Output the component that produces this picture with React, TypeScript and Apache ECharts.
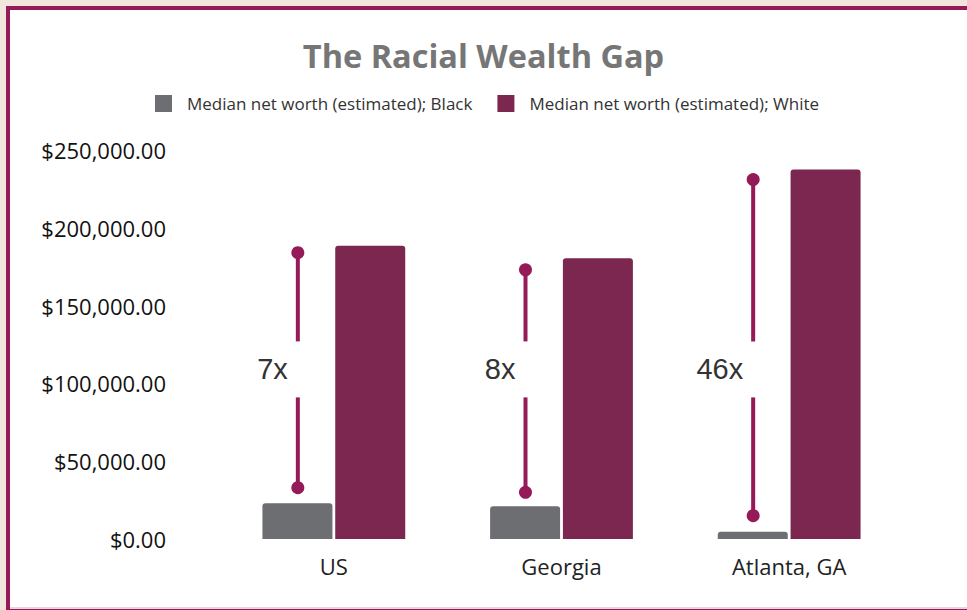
import React, { useEffect, useRef } from "react";
import * as echarts from "echarts";

const categories = ["US", "Georgia", "Atlanta, GA"];
const blackWorth = [23000, 21000, 4600];
const whiteWorth = [188500, 180500, 237500];
const gapLow = [33000, 30000, 15000];
const gapHigh = [184000, 173000, 231000];
const gapLabels = ["7x", "8x", "46x"];
const yTicks = [0, 50000, 100000, 150000, 200000, 250000];
const seriesNames = ["Median net worth (estimated); Black", "Median net worth (estimated); White"];

const LABEL_LEVEL = 109000;
const CRIMSON = "#951a58";

export default function App() {
  const ref = useRef<HTMLDivElement>(null);
  useEffect(() => {
    document.body.style.margin = "0";
    const chart = echarts.init(ref.current!, null, { renderer: "svg" });
    const gapData = categories.map((_, i) => [i, gapLow[i], gapHigh[i], gapLabels[i]]);
    chart.setOption({
      animation: false,
      backgroundColor: "#f0e6dd",
      graphic: [
        { type: "rect", z: -10, shape: { x: 6, y: 6, width: 970, height: 610 }, style: { fill: CRIMSON } },
        { type: "rect", z: -9, shape: { x: 10, y: 10, width: 970, height: 597 }, style: { fill: "#ffffff" } },
        { type: "rect", z: -9, shape: { x: 10, y: 607, width: 970, height: 2 }, style: { fill: "#ead3e2" } },
      ],
      title: {
        text: "The Racial Wealth Gap",
        left: "center",
        top: 34,
        textStyle: { fontFamily: "Open Sans", fontWeight: "bold", fontSize: 32.5, color: "#767676" },
      },
      legend: {
        data: seriesNames,
        left: 155,
        top: 95,
        padding: 0,
        itemWidth: 17,
        itemHeight: 17,
        itemGap: 25,
        icon: "rect",
        textStyle: { fontFamily: "Open Sans", fontSize: 17, color: "#333", padding: [0, 0, 0, 10] },
      },
      grid: { left: 220, right: 64, top: 150, bottom: 71 },
      xAxis: {
        type: "category",
        data: categories,
        axisLine: { show: false },
        axisTick: { show: false },
        axisLabel: { fontFamily: "Open Sans", fontSize: 22, color: "#222", margin: 16 },
      },
      yAxis: {
        type: "value",
        min: 0,
        max: yTicks[yTicks.length - 1],
        interval: 50000,
        splitLine: { show: false },
        axisLine: { show: false },
        axisTick: { show: false },
        axisLabel: {
          fontFamily: "Open Sans",
          fontSize: 22,
          color: "#111",
          margin: 54,
          formatter: (v: number) =>
            "$" + v.toLocaleString("en-US", { minimumFractionDigits: 2, maximumFractionDigits: 2 }),
        },
      },
      series: [
        {
          name: seriesNames[0],
          type: "bar",
          data: blackWorth,
          barWidth: 70,
          barGap: "4%",
          itemStyle: { color: "#6d6e71", borderRadius: [3, 3, 0, 0] },
        },
        {
          name: seriesNames[1],
          type: "bar",
          data: whiteWorth,
          barWidth: 70,
          barGap: "4%",
          itemStyle: { color: "#7b2750", borderRadius: [3, 3, 0, 0] },
        },
        {
          type: "custom",
          name: "gap",
          data: gapData,
          encode: { x: 0, y: [1, 2] },
          z: 5,
          renderItem: (params: any, api: any) => {
            const cat = api.value(0);
            const low = api.coord([cat, api.value(1)]);
            const high = api.coord([cat, api.value(2)]);
            const mid = api.coord([cat, LABEL_LEVEL]);
            const x = low[0] - 36;
            const half = 28;
            const lineStyle = { stroke: CRIMSON, lineWidth: 4 };
            return {
              type: "group",
              children: [
                { type: "line", shape: { x1: x, y1: high[1], x2: x, y2: mid[1] - half }, style: lineStyle },
                { type: "line", shape: { x1: x, y1: mid[1] + half, x2: x, y2: low[1] }, style: lineStyle },
                { type: "circle", shape: { cx: x, cy: high[1], r: 6.5 }, style: { fill: CRIMSON } },
                { type: "circle", shape: { cx: x, cy: low[1], r: 6.5 }, style: { fill: CRIMSON } },
                {
                  type: "text",
                  x: x - 10,
                  y: mid[1],
                  style: {
                    text: gapLabels[params.dataIndex],
                    fill: "#333",
                    font: "29px 'Liberation Sans'",
                    align: "right",
                    verticalAlign: "middle",
                  },
                },
              ],
            };
          },
        },
      ],
    });
    return () => chart.dispose();
  }, []);
  return <div ref={ref} style={{ width: 967, height: 610 }} />;
}
